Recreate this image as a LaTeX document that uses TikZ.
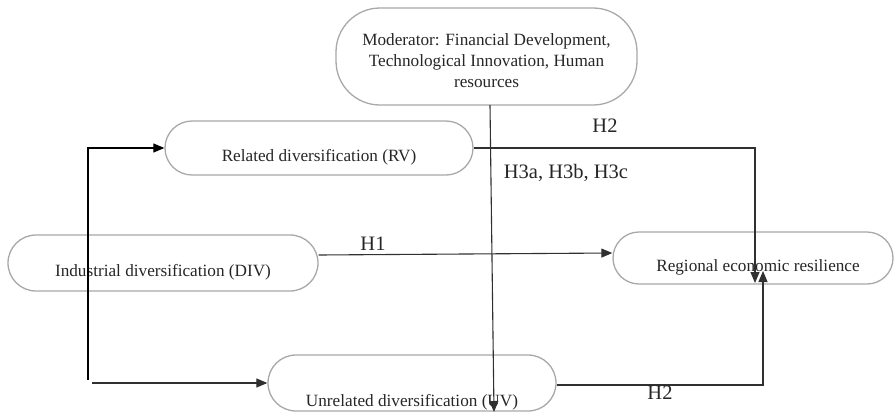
\documentclass[tikz,border=0pt]{standalone}
\usepackage{fontspec}
\setmainfont{Liberation Serif}
\usetikzlibrary{arrows.meta,calc}
\definecolor{boxgray}{HTML}{A8A8A8}
\definecolor{linegray}{HTML}{303030}
\begin{document}
\begin{tikzpicture}[x=1pt,y=-1pt,
  box/.style={draw=boxgray, line width=1.3pt, inner sep=0pt},
  boxtext/.style={font=\fontsize{17.2}{21}\selectfont, text=black!85, inner sep=0pt, align=center},
  hyp/.style={font=\fontsize{20.5}{23}\selectfont, text=black!85, inner sep=0pt},
  conn/.style={draw=linegray, line width=1.1pt},
  arr/.style={conn, -{Triangle[length=11pt,width=9pt]}}
]
\useasboundingbox (0,0) rectangle (895,413);

% boxes
\node[box, rounded corners=44pt, minimum width=301pt, minimum height=97pt] (mod) at (486.5,56.5) {};
\node[box, rounded corners=27pt, minimum width=308pt, minimum height=54pt] (rv) at (319,148) {};
\node[box, rounded corners=28pt, minimum width=310pt, minimum height=56pt] (div) at (163,263) {};
\node[box, rounded corners=26pt, minimum width=280pt, minimum height=52pt] (rer) at (753,258) {};
\node[box, rounded corners=28pt, minimum width=288pt, minimum height=56pt] (uv) at (412,383) {};

% texts
\node[boxtext] (modt) at ($(mod.center)+(0,4)$) {Moderator: Financial Development,\\Technological Innovation, Human\\resources};
\node[boxtext] (rvt) at ($(rv.center)+(0,9)$) {Related diversification (RV)};
\node[boxtext] (divt) at ($(div.center)+(0,9)$) {Industrial diversification (DIV)};
\node[boxtext] (rert) at ($(rer.center)+(5,9)$) {Regional economic resilience};
\node[boxtext] (uvt) at ($(uv.center)+(0,19)$) {Unrelated diversification (UV)};

% connector coordinates
\coordinate (trtop) at (88,148);
\coordinate (trbot) at (88,380);
\coordinate (bstart) at (92,383);
\coordinate (rvturn) at (755,148);
\coordinate (rvtip) at (755,283);
\coordinate (uvturn) at (763,385);
\coordinate (uvtip) at (763,271);
\coordinate (modtop) at (490,105);
\coordinate (modtip) at (494,412);

% connectors
\draw[arr, draw=black] (trbot) -- (trtop) -- (rv.west);
\draw[arr] (bstart) -- (uv.west);
\draw[arr] ($(div.east)+(0,-8)$) -- ($(rer.west)+(0,-5)$);
\draw[arr] (rv.east) -- (rvturn) -- (rvtip);
\draw[arr] ($(uv.east)+(0,2)$) -- (uvturn) -- (uvtip);
\draw[arr] (modtop) -- (modtip);

% hypothesis labels
\node[hyp] (h2a) at (605,126) {H2};
\node[hyp] (h3) at (566,173) {H3a, H3b, H3c};
\node[hyp] (h1) at (373,244) {H1};
\node[hyp] (h2b) at (660,393) {H2};
\end{tikzpicture}
\end{document}
